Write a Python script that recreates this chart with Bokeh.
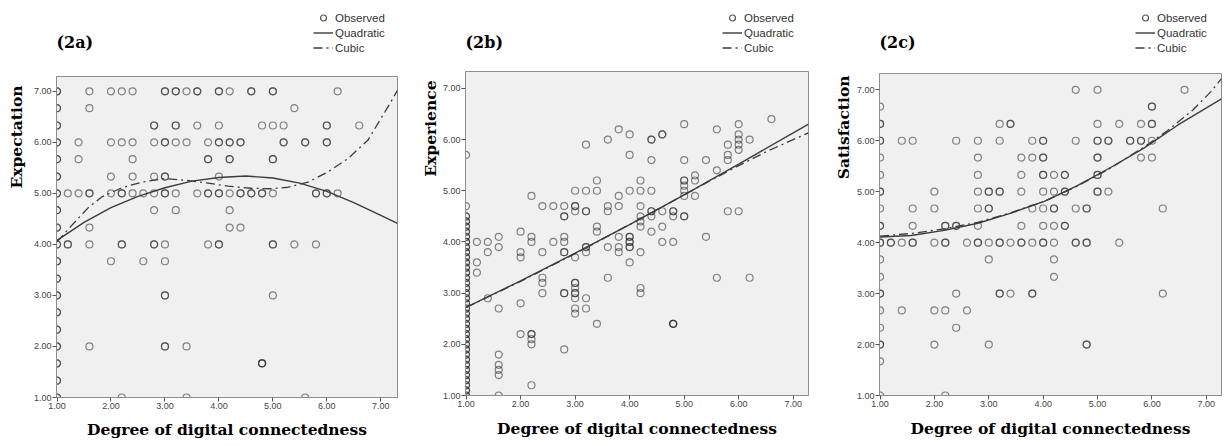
import math
import numpy as np
from bokeh.plotting import figure
from bokeh.layouts import row, column
from bokeh.models import (Range1d, FixedTicker, NumeralTickFormatter, Label, Legend,
                          LegendItem, Title)
from bokeh.embed import file_html
from bokeh.resources import INLINE

# ---------------- data ----------------
tick_values = [1, 2, 3, 4, 5, 6, 7]
x_title = "Degree of digital connectedness"
panel_tags = ["(2a)", "(2b)", "(2c)"]
y_titles = ["Expectation", "Experience", "Satisfaction"]
legend_labels = ["Observed", "Quadratic", "Cubic"]

# (2a) Expectation: observed points grouped by row (y), with overlap counts
a_rows_y = [7.00, 6.67, 6.33, 6.00, 5.67, 5.33, 5.00, 4.67, 4.33, 4.00,
            3.67, 3.33, 3.00, 2.67, 2.33, 2.00, 1.67, 1.33, 1.00]
a_rows_x = [
    [1.0, 1.6, 2.0, 2.2, 2.4, 3.0, 3.2, 3.4, 3.6, 4.0, 4.2, 4.6, 5.0, 6.2],
    [1.0, 1.6, 5.4],
    [1.0, 2.8, 3.2, 3.6, 4.0, 4.8, 5.0, 5.2, 6.0, 6.6],
    [1.0, 1.4, 2.0, 2.2, 2.4, 2.8, 3.0, 3.2, 3.4, 3.8, 4.0, 4.2, 4.4, 5.2, 5.6, 6.0],
    [1.0, 1.4, 2.4, 3.8, 4.2, 5.0],
    [1.0, 2.0, 2.4, 2.8, 3.0, 4.0],
    [1.0, 1.2, 1.4, 1.6, 2.0, 2.2, 2.4, 2.6, 2.8, 3.0, 3.2, 3.6, 3.8, 4.0, 4.2, 4.4, 4.6, 4.8, 5.0, 5.8, 6.0, 6.2],
    [1.0, 2.8, 3.2, 4.2],
    [1.0, 1.6, 4.2, 4.4],
    [1.0, 1.2, 1.6, 2.2, 2.8, 3.0, 3.8, 4.0, 5.0, 5.4, 5.8],
    [1.0, 2.0, 2.6, 3.0],
    [1.0],
    [1.0, 3.0, 5.0],
    [1.0],
    [1.0],
    [1.0, 1.6, 3.0, 3.4],
    [1.0, 4.8],
    [1.0],
    [1.0, 2.2, 3.4, 5.6],
]
a_rows_n = [
    [2, 1, 1, 1, 1, 2, 2, 1, 2, 2, 1, 2, 2, 1],
    [2, 1, 1],
    [2, 2, 2, 1, 1, 1, 1, 1, 2, 1],
    [2, 1, 1, 1, 1, 1, 2, 1, 1, 1, 2, 2, 2, 2, 2, 2],
    [2, 1, 1, 2, 2, 2],
    [2, 1, 1, 1, 2, 1],
    [2, 1, 1, 2, 1, 2, 1, 1, 1, 2, 1, 1, 2, 2, 1, 2, 2, 2, 1, 2, 2, 1],
    [2, 1, 1, 1],
    [2, 1, 1, 1],
    [2, 2, 1, 2, 2, 1, 1, 2, 2, 1, 1],
    [2, 1, 1, 1],
    [2],
    [2, 2, 1],
    [2],
    [2],
    [2, 1, 2, 1],
    [2, 3],
    [2],
    [2, 1, 1, 1],
]
a_quad_x = [1.0, 1.5, 2.0, 2.5, 3.0, 3.5, 4.0, 4.5, 5.0, 5.5, 6.0, 6.5, 7.0, 7.31]
a_quad_y = [4.08, 4.43, 4.72, 4.94, 5.11, 5.24, 5.31, 5.34, 5.30, 5.20, 5.04, 4.82, 4.57, 4.41]
a_cub_x = [1.0, 1.33, 1.58, 1.83, 2.2, 2.57, 3.0, 3.43, 3.8, 4.17, 4.6, 4.98, 5.28, 5.65,
           6.02, 6.39, 6.76, 7.13, 7.31]
a_cub_y = [4.05, 4.44, 4.72, 4.93, 5.11, 5.22, 5.29, 5.25, 5.20, 5.14, 5.10, 5.09, 5.12, 5.22,
           5.42, 5.68, 6.04, 6.69, 7.02]

# (2b) Experience: observed points grouped by column (x)
b_cols_x = [1.0, 1.2, 1.4, 1.6, 2.0, 2.2, 2.4, 2.6, 2.8, 3.0, 3.2, 3.4, 3.6, 3.8, 4.0,
            4.2, 4.4, 4.6, 4.8, 5.0, 5.2, 5.4, 5.6, 5.8, 6.0, 6.2, 6.6]
b_cols_y = [
    [1.0, 1.1, 1.2, 1.3, 1.4, 1.5, 1.6, 1.7, 1.8, 1.9, 2.0, 2.1, 2.2, 2.3, 2.4, 2.5, 2.6, 2.7,
     2.8, 2.9, 3.0, 3.1, 3.2, 3.3, 3.4, 3.5, 3.6, 3.7, 3.8, 3.9, 4.0, 4.1, 4.2, 4.3, 4.4, 4.5,
     4.7, 5.7],
    [4.0, 3.6, 3.4],
    [4.0, 3.8, 2.9],
    [4.1, 3.9, 2.7, 1.8, 1.6, 1.5, 1.4, 1.0],
    [4.2, 3.8, 3.7, 2.8, 2.2],
    [4.9, 4.1, 4.0, 2.2, 2.1, 2.0, 1.2],
    [4.7, 3.8, 3.3, 3.2, 3.0],
    [4.7, 4.0],
    [4.7, 4.5, 4.1, 4.0, 3.8, 3.0, 1.9],
    [5.0, 4.7, 4.6, 3.7, 3.2, 3.1, 3.0, 2.9, 2.7, 2.6],
    [5.9, 5.0, 4.6, 3.9, 3.8, 2.9, 2.7],
    [5.2, 5.0, 4.3, 4.2, 2.4],
    [6.0, 4.7, 4.6, 3.9, 3.3],
    [6.2, 4.9, 4.7, 4.1, 3.9, 3.8],
    [6.1, 5.7, 5.0, 4.1, 4.0, 3.9, 3.6],
    [5.2, 5.0, 4.7, 4.5, 4.4, 4.3, 3.8, 3.1, 3.0],
    [6.0, 5.6, 5.0, 4.6, 4.5, 4.2],
    [6.1, 4.6, 4.3, 4.0],
    [4.6, 4.5, 4.0, 2.4],
    [6.3, 5.6, 5.2, 5.1, 5.0, 4.9, 4.5],
    [5.3, 5.2, 4.9],
    [5.6, 4.1],
    [6.2, 5.4, 3.3],
    [5.9, 5.7, 5.6, 4.6],
    [6.3, 6.1, 6.0, 5.9, 5.8, 4.6],
    [6.0, 3.3],
    [6.4],
]
b_cols_n = [
    [2] * 36 + [1, 1],
    [1, 1, 1],
    [1, 1, 1],
    [1, 1, 1, 1, 1, 1, 1, 1],
    [1, 1, 1, 1, 1],
    [1, 1, 1, 2, 1, 1, 1],
    [1, 1, 1, 1, 1],
    [1, 1],
    [1, 2, 1, 1, 2, 2, 1],
    [1, 2, 1, 1, 2, 1, 2, 1, 1, 1],
    [1, 1, 2, 2, 1, 1, 1],
    [1, 1, 1, 1, 1],
    [1, 1, 1, 1, 1],
    [1, 1, 1, 1, 1, 1],
    [1, 1, 1, 2, 2, 2, 1],
    [1, 1, 1, 1, 1, 1, 1, 1, 1],
    [2, 1, 1, 2, 1, 1],
    [2, 1, 1, 1],
    [2, 1, 1, 3],
    [1, 1, 2, 1, 1, 1, 2],
    [1, 1, 1],
    [1, 1],
    [1, 1, 1],
    [1, 1, 1, 1],
    [1, 1, 1, 1, 1, 1],
    [1, 1],
    [1],
]
b_quad_x = [1.0, 2.0, 3.0, 4.0, 5.0, 6.0, 7.28]
b_quad_y = [2.72, 3.24, 3.78, 4.34, 4.92, 5.52, 6.30]
b_cub_x = [1.0, 2.0, 3.0, 4.0, 5.0, 5.5, 6.0, 6.5, 7.0, 7.28]
b_cub_y = [2.72, 3.23, 3.77, 4.34, 4.92, 5.21, 5.49, 5.76, 6.00, 6.13]

# (2c) Satisfaction: observed points grouped by column (x)
c_cols_x = [1.0, 1.2, 1.4, 1.6, 2.0, 2.2, 2.4, 2.6, 2.8, 3.0, 3.2, 3.4, 3.6, 3.8, 4.0,
            4.2, 4.4, 4.6, 4.8, 5.0, 5.2, 5.4, 5.6, 5.8, 6.0, 6.2, 6.6]
c_cols_y = [
    [6.67, 6.33, 6.00, 5.67, 5.33, 5.00, 4.67, 4.33, 4.00, 3.67, 3.33, 3.00, 2.67, 2.33,
     2.00, 1.67, 1.00],
    [4.00],
    [6.00, 4.00, 2.67],
    [6.00, 4.67, 4.33, 4.00],
    [5.00, 4.67, 4.00, 2.67, 2.00],
    [4.33, 4.00, 2.67, 1.00],
    [6.00, 4.33, 3.00, 2.33],
    [4.00, 2.67],
    [6.00, 5.67, 5.33, 5.00, 4.67, 4.33, 4.00],
    [5.00, 4.67, 4.00, 3.67, 2.00],
    [6.33, 6.00, 5.00, 4.00, 3.00],
    [6.33, 4.00, 3.00],
    [5.67, 5.33, 5.00, 4.33, 4.00],
    [6.00, 5.67, 4.67, 4.00, 3.00],
    [6.00, 5.67, 5.33, 5.00, 4.67, 4.33, 4.00],
    [5.33, 5.00, 4.67, 4.33, 4.00, 3.67, 3.33],
    [5.33, 5.00, 4.33],
    [7.00, 6.00, 4.67, 4.00],
    [4.67, 4.00, 2.00],
    [7.00, 6.33, 6.00, 5.67, 5.33, 5.00],
    [6.00, 5.00],
    [6.33, 4.00],
    [6.00],
    [6.33, 6.00, 5.67],
    [6.67, 6.33, 6.00, 5.67],
    [4.67, 3.00],
    [7.00],
]
c_cols_n = [
    [1, 2, 2, 1, 1, 2, 1, 2, 2, 1, 1, 2, 1, 1, 2, 1, 1],
    [2],
    [1, 1, 1],
    [1, 1, 1, 2],
    [1, 1, 1, 1, 1],
    [2, 2, 1, 1],
    [1, 2, 1, 1],
    [1, 1],
    [1, 1, 1, 1, 1, 1, 2],
    [2, 2, 1, 1, 1],
    [1, 1, 2, 2, 2],
    [2, 1, 1],
    [1, 1, 1, 1, 2],
    [1, 1, 1, 1, 2],
    [2, 2, 2, 1, 1, 1, 2],
    [1, 1, 2, 1, 1, 1, 1],
    [2, 2, 2],
    [1, 1, 1, 2],
    [2, 2, 2],
    [1, 1, 2, 2, 2, 2],
    [2, 1],
    [1, 1],
    [2],
    [1, 2, 1],
    [2, 2, 1, 1],
    [1, 1],
    [1],
]
c_quad_x = [1.0, 1.57, 2.18, 2.80, 3.41, 4.02, 4.63, 5.25, 5.86, 6.48, 7.28]
c_quad_y = [4.11, 4.14, 4.24, 4.38, 4.58, 4.81, 5.12, 5.48, 5.86, 6.31, 6.82]
c_cub_x = [1.0, 1.57, 2.18, 2.80, 3.41, 4.02, 4.63, 5.25, 5.86, 6.29, 6.75, 7.09, 7.28]
c_cub_y = [4.13, 4.18, 4.27, 4.40, 4.59, 4.81, 5.11, 5.47, 5.88, 6.20, 6.60, 6.97, 7.22]


# ---------------- helpers ----------------
def expand_rows(rows_y, rows_x, rows_n):
    xs, ys = [], []
    for yv, xr, nr in zip(rows_y, rows_x, rows_n):
        for xv, nv in zip(xr, nr):
            xs += [xv] * nv
            ys += [yv] * nv
    return xs, ys


def expand_cols(cols_x, cols_y, cols_n):
    xs, ys = [], []
    for xv, yr, nr in zip(cols_x, cols_y, cols_n):
        for yv, nv in zip(yr, nr):
            xs += [xv] * nv
            ys += [yv] * nv
    return xs, ys


SERIF = "DejaVu Serif"
SANS = "Liberation Sans"
FRAME_GRAY = "#8e8e8e"
LINE_COL = "#3c3c3c"
PT_STYLE = dict(marker="circle", size=7, fill_color=None, line_color="#262626",
                line_alpha=0.55, line_width=1.2)
QUAD_STYLE = dict(line_color=LINE_COL, line_width=1.4)
CUB_STYLE = dict(line_color=LINE_COL, line_width=1.3, line_dash="9 4 2 4")
TITLE_SIZE = "15.5px"

HEADER_H = 60


def make_header(width, tag, legend_x, pts, quad, cub):
    # header strip holding the panel tag and the legend (its frame is aligned with the plot's)
    h = figure(width=width, height=HEADER_H, x_range=Range1d(0, 1), y_range=Range1d(0, 1),
               min_border=0, output_backend="svg", toolbar_location=None)
    h.xaxis.visible = False
    h.yaxis.visible = False
    h.xgrid.visible = False
    h.ygrid.visible = False
    h.outline_line_color = None
    h.background_fill_color = "white"
    h.border_fill_color = "white"
    r_obs = h.scatter(pts[0], pts[1], visible=False, **dict(PT_STYLE, line_alpha=0.8))
    r_quad = h.line(quad[0], quad[1], visible=False, **QUAD_STYLE)
    r_cub = h.line(cub[0], cub[1], visible=False, **CUB_STYLE)
    legend = Legend(items=[LegendItem(label=legend_labels[0], renderers=[r_obs]),
                           LegendItem(label=legend_labels[1], renderers=[r_quad]),
                           LegendItem(label=legend_labels[2], renderers=[r_cub])],
                    location=(legend_x, 5), padding=0, spacing=0, margin=0,
                    border_line_color=None, background_fill_alpha=0,
                    inactive_fill_alpha=0,
                    label_text_font=SANS, label_text_font_size="11.5px",
                    label_text_color="#333333", glyph_width=20, glyph_height=15,
                    label_height=15, label_standoff=2)
    h.add_layout(legend)
    h.add_layout(Label(x=0, y=18, x_units="screen", y_units="screen",
                       text=tag, text_font=SERIF, text_font_style="bold",
                       text_font_size="16px", text_baseline="middle", text_align="left",
                       text_color="black"))
    return h


def make_panel(ytitle, pts, quad, cub, x_end, y_end, width, height,
               bl, br, bt, bb, ytitle_offset, ytitle_standoff, xtitle_offset, xtitle_standoff):
    p = figure(width=width, height=height,
               x_range=Range1d(0.99, x_end), y_range=Range1d(1.0, y_end),
               min_border_left=bl, min_border_right=br,
               min_border_top=bt, min_border_bottom=bb,
               output_backend="svg", toolbar_location=None)
    p.background_fill_color = "#f0f0f0"
    p.border_fill_color = "white"
    p.outline_line_color = FRAME_GRAY
    p.outline_line_width = 1
    p.xgrid.visible = False
    p.ygrid.visible = False

    for ax in (p.xaxis[0], p.yaxis[0]):
        ax.ticker = FixedTicker(ticks=tick_values)
        ax.formatter = NumeralTickFormatter(format="0.00")
        ax.major_label_text_font = SANS
        ax.major_label_text_font_size = "9px"
        ax.major_label_text_color = "#444444"
        ax.major_label_standoff = 1
        ax.minor_tick_line_color = None
        ax.major_tick_in = 0
        ax.major_tick_out = 4
        ax.major_tick_line_color = "#555555"
        ax.axis_line_color = FRAME_GRAY

    p.scatter(pts[0], pts[1], **PT_STYLE)
    p.line(quad[0], quad[1], **QUAD_STYLE)
    p.line(cub[0], cub[1], **CUB_STYLE)

    p.add_layout(Title(text=ytitle, align="right", offset=ytitle_offset,
                       standoff=ytitle_standoff,
                       text_font=SERIF, text_font_style="bold", text_font_size=TITLE_SIZE,
                       text_color="black"), "left")
    p.add_layout(Title(text=x_title, align="center", offset=xtitle_offset,
                       standoff=xtitle_standoff,
                       text_font=SERIF, text_font_style="bold", text_font_size=TITLE_SIZE,
                       text_color="black"), "below")
    return p


a_pts = expand_rows(a_rows_y, a_rows_x, a_rows_n)
b_pts = expand_cols(b_cols_x, b_cols_y, b_cols_n)
c_pts = expand_cols(c_cols_x, c_cols_y, c_cols_n)

a_q, a_c = (a_quad_x, a_quad_y), (a_cub_x, a_cub_y)
b_q, b_c = (b_quad_x, b_quad_y), (b_cub_x, b_cub_y)
c_q, c_c = (c_quad_x, c_quad_y), (c_cub_x, c_cub_y)

h1 = make_header(410, panel_tags[0], 257, a_pts, a_q, a_c)
h2 = make_header(405, panel_tags[1], 257, b_pts, b_q, b_c)
h3 = make_header(408, panel_tags[2], 256, c_pts, c_q, c_c)

p1 = make_panel(y_titles[0], a_pts, a_q, a_c, 7.31, 7.29, 410, 386,
                55, 13, 16, 49, 9, 9, -14, 13)
p2 = make_panel(y_titles[1], b_pts, b_q, b_c, 7.28, 7.33, 405, 386,
                55, 7, 11, 51, 9, 0, -11, 15)
p3 = make_panel(y_titles[2], c_pts, c_q, c_c, 7.28, 7.32, 408, 386,
                64, 2, 13, 51, 2, 1, -21, 15)

layout = row(column(h1, p1), column(h2, p2), column(h3, p3))
open("out.html", "w").write(file_html(layout, INLINE))
